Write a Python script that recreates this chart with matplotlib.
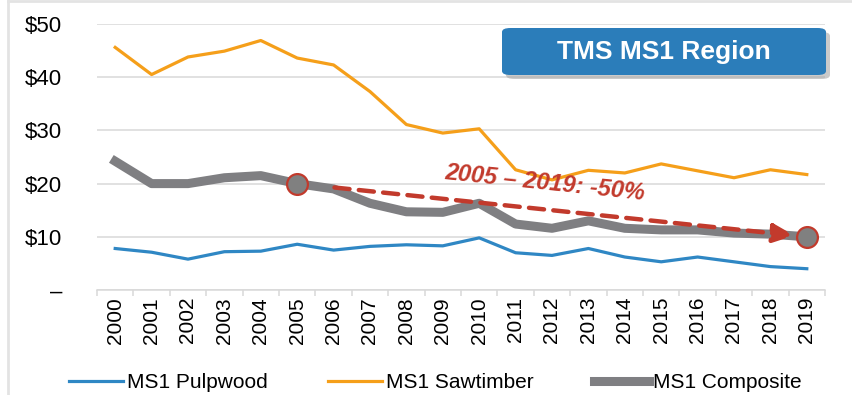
import matplotlib
matplotlib.use("Agg")
import matplotlib.pyplot as plt
import numpy as np
from matplotlib.patches import FancyBboxPatch
from matplotlib.lines import Line2D

plt.rcParams['font.family'] = ['Liberation Sans', 'DejaVu Sans']

years = ['2000', '2001', '2002', '2003', '2004', '2005', '2006', '2007', '2008', '2009',
         '2010', '2011', '2012', '2013', '2014', '2015', '2016', '2017', '2018', '2019']

# stumpage prices, $/ton
pulpwood = [7.8, 7.1, 5.8, 7.2, 7.3, 8.6, 7.5, 8.2, 8.5, 8.3,
            9.8, 7.0, 6.5, 7.8, 6.2, 5.3, 6.2, 5.3, 4.4, 4.0]
sawtimber = [45.6, 40.5, 43.8, 44.9, 46.9, 43.6, 42.3, 37.3, 31.1, 29.5,
             30.3, 22.6, 20.7, 22.5, 22.0, 23.7, 22.4, 21.1, 22.6, 21.7]
composite = [24.2, 20.0, 20.0, 21.1, 21.5, 20.0, 19.0, 16.3, 14.7, 14.6,
             16.3, 12.4, 11.6, 13.0, 11.6, 11.3, 11.3, 10.7, 10.5, 10.0]

yticks = [0, 10, 20, 30, 40, 50]
ytick_labels = ['–', '$10', '$20', '$30', '$40', '$50']

BLUE = '#2f87c4'
ORANGE = '#f59f1a'
GRAY = '#7f7f82'
RED = '#c23a2c'
LIGHT = '#d9d9d9'

fig = plt.figure(figsize=(8.52, 3.95), dpi=100)
ax = fig.add_axes([97/852, 1 - 290/395, 728/852, 266/395])

x = np.arange(len(years))
ax.plot(x, pulpwood, color=BLUE, lw=2.3, label='MS1 Pulpwood', zorder=3)
ax.plot(x, sawtimber, color=ORANGE, lw=2.3, label='MS1 Sawtimber', zorder=3)
ax.plot(x, composite, color=GRAY, lw=6.5, label='MS1 Composite', zorder=3)

# change from 2005 to 2019
i0, i1 = years.index('2005'), years.index('2019')
ax.annotate('', xy=(i1, composite[i1]), xytext=(i0, composite[i0]),
            arrowprops=dict(arrowstyle='-|>,head_length=0.9,head_width=0.4',
                            mutation_scale=14, color=RED, lw=3.2,
                            ls=(0, (3.4, 2.1)), shrinkA=27, shrinkB=9),
            zorder=4)
ax.plot([i0, i1], [composite[i0], composite[i1]], ls='none', marker='o', ms=15,
        mfc='#808080', mec=RED, mew=1.6, zorder=5)
pct = (composite[i1] / composite[i0] - 1) * 100
ax.text(11.8, 20.1, f'{years[i0]} – {years[i1]}: {pct:.0f}%', color=RED,
        fontsize=17, fontweight='bold', fontstyle='italic',
        rotation=-6, rotation_mode='anchor', ha='center', va='center', zorder=6)

ax.set_xlim(-0.5, len(years) - 0.5)
ax.set_ylim(0, 50)
ax.set_yticks(yticks)
ax.set_yticklabels(ytick_labels)
ax.set_xticks(x)
ax.set_xticklabels(years, rotation=90)
ax.set_xticks(np.arange(len(years) + 1) - 0.5, minor=True)
ax.tick_params(axis='y', length=0, pad=25, labelsize=16)
ax.tick_params(axis='x', which='major', length=0, pad=5, labelsize=15)
ax.tick_params(axis='x', which='minor', length=4.5, width=1.1, color=LIGHT)

ax.grid(axis='y', color=LIGHT, lw=1.1)
ax.set_axisbelow(True)
for s in ['top', 'right', 'left']:
    ax.spines[s].set_visible(False)
ax.spines['bottom'].set_color(LIGHT)
ax.spines['bottom'].set_linewidth(1.1)

ax.legend(loc='center', bbox_to_anchor=(435/852, 1 - 383/395), bbox_transform=fig.transFigure,
          ncol=3, frameon=False, fontsize=15, handlelength=2.6, handletextpad=0.2,
          columnspacing=2.9, borderpad=0)

# title box with drop shadow
bx, by, bw, bh = 502/852, 1 - 75/395, 324/852, 47/395
shadow = FancyBboxPatch((bx + 4/852, by - 4/395), bw, bh, boxstyle='round,pad=0,rounding_size=0.01',
                        transform=fig.transFigure, fc='#a0a0a0', ec='none', alpha=0.55, zorder=1)
box = FancyBboxPatch((bx, by), bw, bh, boxstyle='round,pad=0,rounding_size=0.01',
                     transform=fig.transFigure, fc='#2b7dba', ec='none', zorder=2)
fig.add_artist(shadow)
fig.add_artist(box)
fig.text(bx + bw/2, by + bh/2, 'TMS MS1 Region', color='white', fontsize=19,
         fontweight='bold', ha='center', va='center', zorder=3)

# outer frame
fig.add_artist(Line2D([8/852, 8/852], [0, 1 - 1/395], color='#e3e3e3', lw=2))
fig.add_artist(Line2D([8/852, 1], [1 - 1/395, 1 - 1/395], color='#e3e3e3', lw=2))

fig.savefig('out.png', dpi=100)
